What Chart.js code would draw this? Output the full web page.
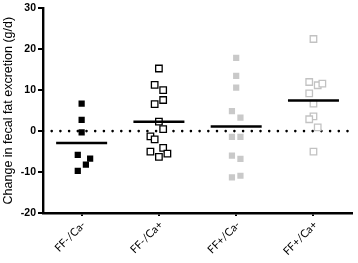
<!DOCTYPE html>
<html>
<head>
<meta charset="utf-8">
<script src="https://cdn.jsdelivr.net/npm/chart.js@4"></script>
<style>
  html, body { margin: 0; padding: 0; background: #fff; }
  #wrap { width: 358px; height: 263px; }
</style>
</head>
<body>
<div id="wrap"><canvas id="fatChart" width="358" height="263"></canvas></div>
<script>
// groups on the x axis
const groups = ['FF-/Ca-', 'FF-/Ca+', 'FF+/Ca-', 'FF+/Ca+'];
const yTicks = [30, 20, 10, 0, -10, -20];

// change in fecal fat excretion per subject (g/d)
const ffMinusCaMinus = [6.7, 2.75, -0.3, -5.8, -6.7, -8.2, -9.7];
const ffMinusCaMinusX = [0, 0, 0, -0.05, 0.11, 0.055, -0.05];

const ffMinusCaPlus = [15.3, 11.3, 10.0, 7.6, 6.6, 2.3, 0.5, -1.3, -2.0, -4.1, -5.0, -6.3, -5.5];
const ffMinusCaPlusX = [0, -0.055, 0.055, 0.055, -0.055, 0, 0.055, -0.11, -0.055, 0.055, -0.11, 0, 0.11];

const ffPlusCaMinus = [17.9, 13.5, 10.6, 4.9, 3.3, -1.4, -1.4, -6.0, -6.8, -11.3, -10.9];
const ffPlusCaMinusX = [0, 0, 0, -0.055, 0.055, -0.055, 0.055, -0.055, 0.055, -0.055, 0.055];

const ffPlusCaPlus = [22.5, 12.0, 11.2, 11.6, 9.2, 6.7, 3.6, 2.9, 0.9, -5.0];
const ffPlusCaPlusX = [0, -0.055, 0.055, 0.115, -0.055, 0, 0, -0.055, 0.055, 0];

// group means (horizontal bars)
const groupMeans = [-2.9, 2.3, 1.1, 7.5];

function pts(vals, offs, idx) {
    return vals.map((v, i) => ({ x: idx + offs[i], y: v }));
}

function meanLine(idx) {
    return [{ x: idx - 0.33, y: groupMeans[idx] }, { x: idx + 0.33, y: groupMeans[idx] }];
}

const grey = '#c9c9c9';

const datasets = [
    // dotted zero line
    {
        type: 'line',
        data: [{ x: -0.5, y: 0 }, { x: 3.5, y: 0 }],
        borderColor: '#000',
        borderWidth: 2.6,
        borderDash: [0, 8.7],
        borderCapStyle: 'round',
        pointRadius: 0,
        order: 5
    },
    {
        data: pts(ffMinusCaMinus, ffMinusCaMinusX, 0),
        pointStyle: 'rect', pointRadius: 4.4,
        backgroundColor: '#000', borderColor: '#000', borderWidth: 0
    },
    {
        data: pts(ffMinusCaPlus, ffMinusCaPlusX, 1),
        pointStyle: 'rect', pointRadius: 4.6,
        backgroundColor: '#fff', borderColor: '#000', borderWidth: 1.3
    },
    {
        data: pts(ffPlusCaMinus, ffPlusCaMinusX, 2),
        pointStyle: 'rect', pointRadius: 4.4,
        backgroundColor: grey, borderColor: grey, borderWidth: 0
    },
    {
        data: pts(ffPlusCaPlus, ffPlusCaPlusX, 3),
        pointStyle: 'rect', pointRadius: 4.6,
        backgroundColor: '#fff', borderColor: '#c2c2c2', borderWidth: 1.3
    }
];

// mean bars
for (let i = 0; i < groups.length; i++) {
    datasets.push({
        type: 'line',
        data: meanLine(i),
        borderColor: '#000',
        borderWidth: 2.5,
        pointRadius: 0,
        order: -1
    });
}

// slanted group names under the x axis, end of text at the tick
const slantLabels = {
    id: 'slantLabels',
    afterDraw(chart) {
        const sx = chart.scales.x;
        const c = chart.ctx;
        c.save();
        c.font = '11px Lato';
        c.fillStyle = '#000';
        c.textAlign = 'right';
        c.textBaseline = 'middle';
        const a = -Math.PI / 4;
        groups.forEach((g, i) => {
            const px = sx.getPixelForValue(i) + 2;
            const py = sx.top + 10;
            c.setTransform(Math.cos(a), Math.sin(a), -Math.sin(a), Math.cos(a), px, py);
            c.fillText(g, 0, 0);
        });
        c.restore();
    }
};

const ctx = document.getElementById('fatChart').getContext('2d');
const chart = new Chart(ctx, {
    type: 'scatter',
    data: { datasets: datasets },
    plugins: [slantLabels],
    options: {
        responsive: false,
        animation: false,
        events: [],
        layout: { padding: { top: 7, right: 1, left: 0, bottom: 0 } },
        plugins: {
            legend: { display: false },
            tooltip: { enabled: false }
        },
        scales: {
            x: {
                type: 'linear',
                min: -0.5,
                max: 3.5,
                afterBuildTicks: (axis) => {
                    axis.ticks = groups.map((g, i) => ({ value: i }));
                },
                afterFit: (axis) => { axis.height = 50; },
                border: { display: true, color: '#000', width: 2.4 },
                grid: {
                    display: true,
                    drawOnChartArea: false,
                    drawTicks: true,
                    tickLength: 3,
                    color: '#000',
                    lineWidth: 2
                },
                ticks: { display: false }
            },
            y: {
                min: -20,
                max: 30,
                afterBuildTicks: (axis) => {
                    axis.ticks = yTicks.map(v => ({ value: v }));
                },
                afterFit: (axis) => { axis.width = 43; },
                border: { display: true, color: '#000', width: 2.4 },
                grid: {
                    display: true,
                    drawOnChartArea: false,
                    drawTicks: true,
                    tickLength: 5,
                    color: '#000',
                    lineWidth: 2
                },
                ticks: {
                    padding: 2,
                    color: '#000',
                    font: { family: 'Liberation Sans', size: 10.5, weight: 'bold' }
                },
                title: {
                    display: true,
                    text: 'Change in fecal fat excretion (g/d)',
                    color: '#000',
                    padding: { top: 1, bottom: 0 },
                    font: { family: 'Liberation Sans', size: 12.5 }
                }
            }
        }
    }
});
</script>
</body>
</html>
